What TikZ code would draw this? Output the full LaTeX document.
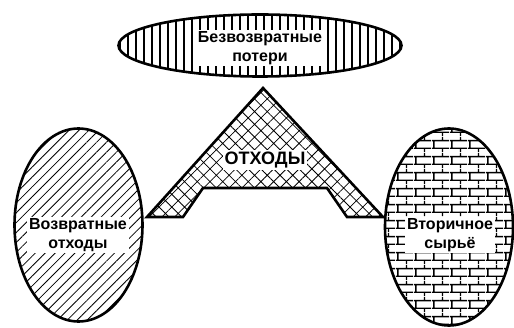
\documentclass[tikz,border=0pt]{standalone}
\usepackage{fontspec}
\setmainfont{Liberation Sans}
\usetikzlibrary{patterns,patterns.meta,shapes.geometric}
\pgfdeclarepattern{
  name=mybricks,
  type=uncolored,
  bottom left={\pgfpoint{0pt}{0pt}},
  top right={\pgfpoint{18pt}{16pt}},
  tile size={\pgfpoint{18pt}{16pt}},
  code={
    \pgfsetlinewidth{1.5pt}
    \pgfpathmoveto{\pgfpoint{0pt}{4pt}}\pgfpathlineto{\pgfpoint{18pt}{4pt}}
    \pgfpathmoveto{\pgfpoint{0pt}{12pt}}\pgfpathlineto{\pgfpoint{18pt}{12pt}}
    \pgfpathmoveto{\pgfpoint{2pt}{4pt}}\pgfpathlineto{\pgfpoint{2pt}{12pt}}
    \pgfpathmoveto{\pgfpoint{11pt}{12pt}}\pgfpathlineto{\pgfpoint{11pt}{16pt}}
    \pgfpathmoveto{\pgfpoint{11pt}{0pt}}\pgfpathlineto{\pgfpoint{11pt}{4pt}}
    \pgfusepath{stroke}
  }
}
\tikzset{
  shapeline/.style={draw, line width=2.6pt},
  oval/.style={shapeline, ellipse, inner sep=0pt},
  lbl/.style={fill=white, font=\bfseries\fontsize{16}{18.5}\selectfont, align=center, inner sep=2pt},
}
\begin{document}
\begin{tikzpicture}[x=1pt,y=-1pt]
\useasboundingbox (0,0) rectangle (514,328);
\node[oval, minimum width=283pt, minimum height=62pt,
  pattern={Lines[angle=90,distance=8pt,line width=1.4pt]}] (top) at (260,45.5) {};
\node[oval, minimum width=128pt, minimum height=193pt,
  pattern={Lines[angle=45,distance=7pt,line width=0.8pt]}] (left) at (78.5,225) {};
\node[oval, minimum width=128pt, minimum height=197pt,
  pattern=mybricks] (right) at (449,227) {};
\coordinate (a1) at (147,217);
\coordinate (a2) at (263,88);
\coordinate (a3) at (383,217);
\coordinate (a4) at (347,217);
\coordinate (a5) at (327,188);
\coordinate (a6) at (203,188);
\coordinate (a7) at (183,217);
\draw[shapeline, line join=miter, pattern={Hatch[angle=45,distance=9pt,line width=0.8pt]}]
  (a1) -- (a2) -- (a3) -- (a4) -- (a5) -- (a6) -- (a7) -- cycle;
\node[lbl] (ttop) at (260,48) {Безвозвратные\\потери};
\node[lbl] (tleft) at (78,235) {Возвратные\\отходы};
\node[lbl] (tright) at (450,235) {Вторичное\\сырьё};
\node[lbl, font=\bfseries\fontsize{18}{20}\selectfont] (tmid) at (265,160) {ОТХОДЫ};
\end{tikzpicture}
\end{document}
